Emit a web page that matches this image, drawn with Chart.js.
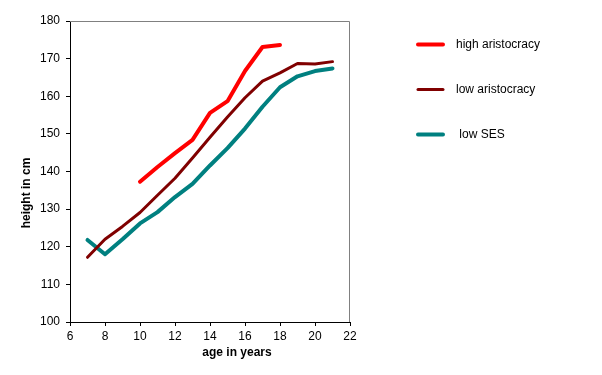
<!DOCTYPE html>
<html>
<head>
<meta charset="utf-8">
<script src="https://cdn.jsdelivr.net/npm/chart.js@4"></script>
<style>
  html, body { margin: 0; padding: 0; background: #fff; }
  #wrap { width: 602px; height: 375px; position: relative; }
</style>
</head>
<body>
<div id="wrap"><canvas id="chart" width="602" height="375"></canvas></div>
<script>
const ages = [7, 8, 9, 10, 11, 12, 13, 14, 15, 16, 17, 18, 19, 20, 21];

const highAristocracy = [null, null, null, 137.3, 141.2, 144.9, 148.4, 155.6, 158.7, 166.7, 173.1, 173.6, null, null, null];
const lowAristocracy = [117.2, 122.0, 125.4, 129.1, 133.7, 138.2, 143.6, 149.1, 154.5, 159.6, 164.0, 166.2, 168.7, 168.6, 169.2];
const lowSES = [121.8, 118.0, 122.0, 126.2, 129.2, 133.2, 136.7, 141.6, 146.2, 151.4, 157.2, 162.4, 165.3, 166.7, 167.4];

const seriesNames = ["high aristocracy", "low aristocracy", " low SES"];
const xTicks = [6, 8, 10, 12, 14, 16, 18, 20, 22];
const yTicks = [100, 110, 120, 130, 140, 150, 160, 170, 180];

const FONT = 'Arial, "Liberation Sans", sans-serif';

function toPoints(ys) {
  return ages.map((a, i) => ({ x: a, y: ys[i] }));
}

// gray frame on top/right, axis titles, legend
const extras = {
  id: "extras",
  afterDraw(chart) {
    const ctx = chart.ctx;
    const a = chart.chartArea;
    ctx.save();
    ctx.strokeStyle = "#808080";
    ctx.lineWidth = 1;
    ctx.beginPath();
    ctx.moveTo(a.left, a.top + 0.5);
    ctx.lineTo(a.right - 0.5, a.top + 0.5);
    ctx.lineTo(a.right - 0.5, a.bottom);
    ctx.stroke();

    ctx.fillStyle = "#000";
    ctx.font = "bold 12px " + FONT;
    ctx.textAlign = "center";
    ctx.textBaseline = "middle";
    ctx.fillText("age in years", 237, 353);
    ctx.save();
    ctx.translate(27, 193);
    ctx.rotate(-Math.PI / 2);
    ctx.fillText("height in cm", 0, 0);
    ctx.restore();

    ctx.font = "12px " + FONT;
    ctx.textAlign = "left";
    chart.data.datasets.forEach((ds, i) => {
      const y = 44.5 + i * 45;
      ctx.strokeStyle = ds.borderColor;
      ctx.lineWidth = ds.borderWidth;
      ctx.lineCap = "round";
      ctx.beginPath();
      ctx.moveTo(418, y);
      ctx.lineTo(443, y);
      ctx.stroke();
      ctx.fillText(ds.label, 456, y);
    });
    ctx.restore();
  }
};

new Chart(document.getElementById("chart"), {
  type: "line",
  data: {
    datasets: [
      { label: seriesNames[0], data: toPoints(highAristocracy), borderColor: "#ff0000", borderWidth: 4 },
      { label: seriesNames[1], data: toPoints(lowAristocracy), borderColor: "#800000", borderWidth: 3 },
      { label: seriesNames[2], data: toPoints(lowSES), borderColor: "#008080", borderWidth: 4 }
    ].map(d => Object.assign(d, {
      pointRadius: 0,
      tension: 0,
      spanGaps: false,
      borderCapStyle: "round",
      borderJoinStyle: "round",
      fill: false
    }))
  },
  options: {
    responsive: false,
    animation: false,
    layout: { padding: { left: 0, right: 252, top: 21, bottom: 0 } },
    plugins: { legend: { display: false }, tooltip: { enabled: false } },
    scales: {
      x: {
        type: "linear",
        min: 6,
        max: 22,
        afterBuildTicks: (s) => { s.ticks = xTicks.map(v => ({ value: v })); },
        afterFit: (s) => { s.height = 53; },
        grid: { drawOnChartArea: false, drawTicks: true, tickLength: 4, color: "#000" },
        border: { color: "#000", width: 1 },
        ticks: { color: "#000", font: { family: FONT, size: 12 }, padding: 3, maxRotation: 0 }
      },
      y: {
        min: 100,
        max: 180,
        afterBuildTicks: (s) => { s.ticks = yTicks.map(v => ({ value: v })); },
        afterFit: (s) => { s.width = 70; },
        grid: { drawOnChartArea: false, drawTicks: true, tickLength: 4, color: "#000" },
        border: { color: "#000", width: 1 },
        ticks: { color: "#000", font: { family: FONT, size: 12 }, padding: 6 }
      }
    }
  },
  plugins: [extras]
});
</script>
</body>
</html>
